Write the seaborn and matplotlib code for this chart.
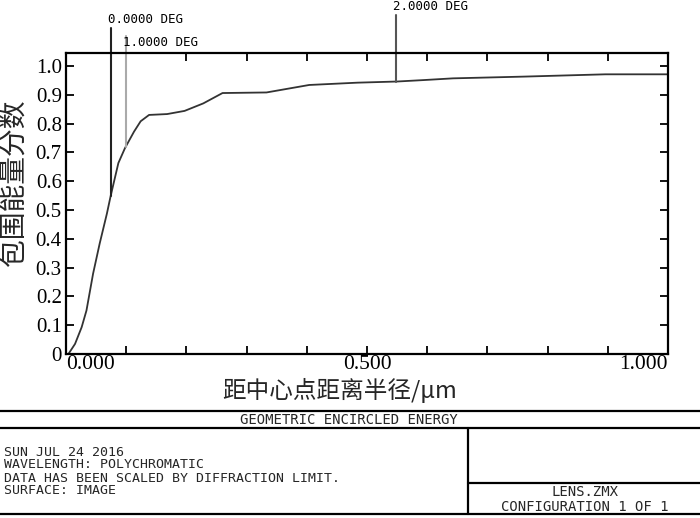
import matplotlib
matplotlib.use("Agg")
import matplotlib.pyplot as plt
import numpy as np
import pandas as pd
import seaborn as sns

# encircled energy curve (radius in um, fraction of energy)
radius = [0.0, 0.004, 0.015, 0.026, 0.034, 0.045, 0.056, 0.068, 0.074, 0.087,
          0.098, 0.113, 0.124, 0.138, 0.168, 0.197, 0.228, 0.260, 0.333, 0.404,
          0.484, 0.550, 0.594, 0.643, 0.760, 0.896, 1.0]
energy = [0.0, 0.0, 0.035, 0.093, 0.151, 0.279, 0.384, 0.488, 0.547, 0.663,
          0.715, 0.772, 0.808, 0.830, 0.833, 0.844, 0.870, 0.906, 0.908, 0.934,
          0.942, 0.946, 0.951, 0.957, 0.963, 0.971, 0.971]

# field markers
field_labels = ["0.0000 DEG", "1.0000 DEG", "2.0000 DEG"]
field_radius = [0.074, 0.099, 0.549]

y_ticks = [0, 0.1, 0.2, 0.3, 0.4, 0.5, 0.6, 0.7, 0.8, 0.9, 1.0]
y_tick_labels = ["0", "0.1", "0.2", "0.3", "0.4", "0.5", "0.6", "0.7", "0.8", "0.9", "1.0"]
x_ticks = [0, 0.1, 0.2, 0.3, 0.4, 0.5, 0.6, 0.7, 0.8, 0.9, 1.0]
x_tick_labels = ["0.000", "", "", "", "", "0.500", "", "", "", "", "1.000"]

footer_left = ["SUN JUL 24 2016",
               "WAVELENGTH: POLYCHROMATIC",
               "DATA HAS BEEN SCALED BY DIFFRACTION LIMIT.",
               "SURFACE: IMAGE"]
footer_right = ["LENS.ZMX", "CONFIGURATION 1 OF 1"]
footer_title = "GEOMETRIC ENCIRCLED ENERGY"

sns.set_style("ticks")
cjk = ["Noto Sans CJK SC", "DejaVu Sans"]
mono = "DejaVu Sans Mono"

W, H = 700, 518
fig = plt.figure(figsize=(W / 100, H / 100), dpi=100)
ax = fig.add_axes([66 / W, 1 - 354 / H, 602 / W, 301 / H])

df = pd.DataFrame({"radius": radius, "energy": energy})
sns.lineplot(data=df, x="radius", y="energy", ax=ax, color="#333333", lw=1.3)

ax.set_xlim(0, 1.0)
ax.set_ylim(0, 1.045)
ax.set_xticks(x_ticks)
ax.set_xticklabels(x_tick_labels, family="Liberation Serif", fontsize=15.5)
ax.set_yticks(y_ticks)
ax.set_yticklabels(y_tick_labels, family="Liberation Serif", fontsize=15)
xl = ax.get_xticklabels()
xl[0].set_ha("left")
xl[-1].set_ha("right")
ax.tick_params(direction="in", length=6, width=1.3, top=True, right=True,
               colors="black")
ax.tick_params(axis="x", pad=1)
ax.tick_params(axis="y", pad=3)
for s in ax.spines.values():
    s.set_linewidth(1.6)
    s.set_color("black")
ax.set_xlabel("")
ax.set_ylabel("")

# field markers from curve up to the labels above the frame
mk_colors = ["#222222", "#aaaaaa", "#555555"]
tops = [1.132, 1.104, 1.177]
label_y = [1.160, 1.083, 1.205]
for lab, r, c, t, ly in zip(field_labels, field_radius, mk_colors, tops, label_y):
    yb = np.interp(r, radius, energy)
    ax.plot([r, r], [yb, t], color=c, lw=1.5, clip_on=False)
    ax.text(r - 0.005, ly, lab, family=mono, fontsize=9, ha="left",
            va="center", clip_on=False, color="black")

fig.text(15 / W, 1 - 183 / H, "包围能量分数", rotation=90, family=cjk,
         fontsize=20, ha="center", va="center")
fig.text(340 / W, 1 - 390 / H, "距中心点距离半径/μm", family=cjk,
         fontsize=17, ha="center", va="center")

# footer box
fx = fig.add_axes([0, 0, 1, 118 / H])
fx.set_xlim(0, W)
fx.set_ylim(518, 400)
fx.axis("off")
lw = 1.6
for yy in [411, 428, 514]:
    fx.plot([0, W], [yy, yy], color="black", lw=lw)
fx.plot([468, 468], [428, 514], color="black", lw=lw)
fx.plot([468, W], [483, 483], color="black", lw=lw)

fs = 9.5
fx.text(349, 420, footer_title, family=mono, fontsize=fs + 0.5, ha="center", va="center")
for i, line in enumerate(footer_left):
    fx.text(4, 452 + i * 13, line, family=mono, fontsize=fs, ha="left", va="center")
for i, line in enumerate(footer_right):
    fx.text(585, 492 + i * 15, line, family=mono, fontsize=fs + 0.5, ha="center", va="center")

fig.savefig("out.png", dpi=100)
